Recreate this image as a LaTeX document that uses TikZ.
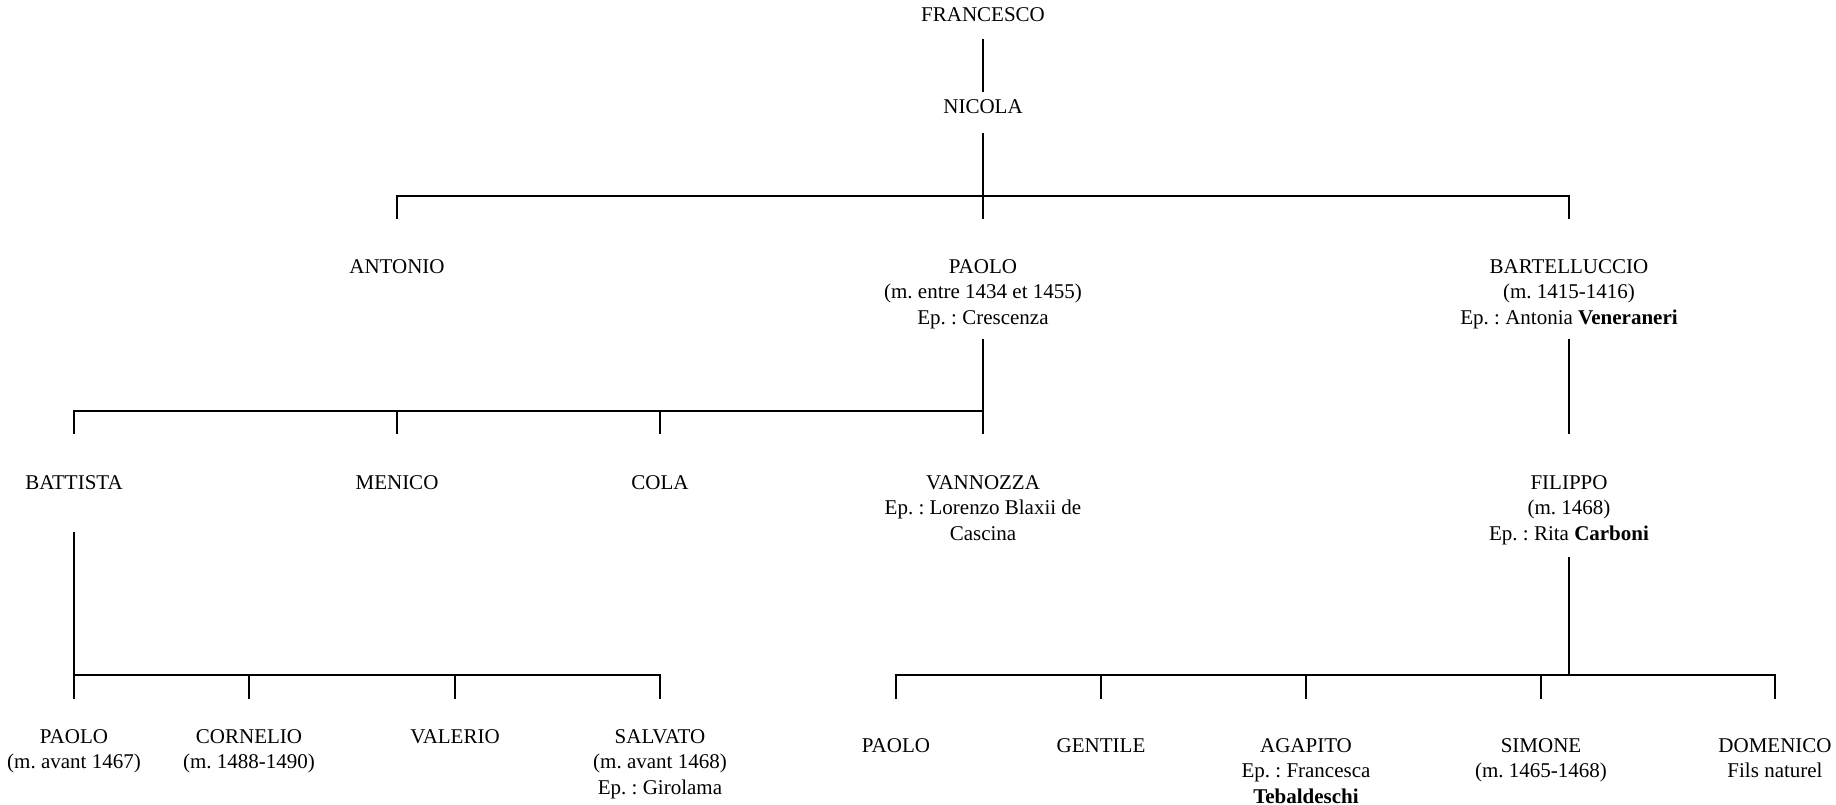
\documentclass[tikz,border=0pt]{standalone}
\usepackage{fontspec}
\setmainfont{Liberation Serif}
\frenchspacing
\begin{document}
\begin{tikzpicture}[x=1pt,y=-1pt,
  person/.style={anchor=base,inner sep=0pt,outer sep=0pt,font=\fontsize{21}{25.5}\selectfont},
  link/.style={line width=2pt,line cap=butt}]
\useasboundingbox (0,0) rectangle (1836,804);
\newcommand{\pers}[1]{\setlength{\tabcolsep}{0pt}\begin{tabular}[t]{c}#1\end{tabular}}
% row 0
\node[person] (francesco) at (983,21) {\pers{FRANCESCO}};
\node[person] (nicola) at (983,113) {\pers{NICOLA}};
% row 1
\node[person] (antonio) at (397,273) {\pers{ANTONIO}};
\node[person] (paolo) at (983,273) {\pers{PAOLO\\(m. entre 1434 et 1455)\\Ep. : Crescenza}};
\node[person] (bart) at (1569,273) {\pers{BARTELLUCCIO\\(m. 1415-1416)\\Ep. : Antonia \textbf{Veneraneri}}};
% row 2
\node[person] (battista) at (74,489) {\pers{BATTISTA}};
\node[person] (menico) at (397,489) {\pers{MENICO}};
\node[person] (cola) at (660,489) {\pers{COLA}};
\node[person] (vannozza) at (983,489) {\pers{VANNOZZA\\Ep. : Lorenzo Blaxii de\\Cascina}};
\node[person] (filippo) at (1569,489) {\pers{FILIPPO\\(m. 1468)\\Ep. : Rita \textbf{Carboni}}};
% row 3 left
\node[person] (paolob) at (74,743) {\pers{PAOLO\\(m. avant 1467)}};
\node[person] (cornelio) at (249,743) {\pers{CORNELIO\\(m. 1488-1490)}};
\node[person] (valerio) at (455,743) {\pers{VALERIO}};
\node[person] (salvato) at (660,743) {\pers{SALVATO\\(m. avant 1468)\\Ep. : Girolama}};
% row 3 right
\node[person] (paolof) at (896,752) {\pers{PAOLO}};
\node[person] (gentile) at (1101,752) {\pers{GENTILE}};
\node[person] (agapito) at (1306,752) {\pers{AGAPITO\\Ep. : Francesca\\\textbf{Tebaldeschi}}};
\node[person] (simone) at (1541,752) {\pers{SIMONE\\(m. 1465-1468)}};
\node[person] (domenico) at (1775,752) {\pers{DOMENICO\\Fils naturel}};
% connectors
\draw[link] (francesco.base |- 0,39) -- (nicola.base |- 0,92);
% Nicola's children
\coordinate (nb) at (983,195.5);
\draw[link] (nicola.base |- 0,133) -- (nb) -- (paolo.base |- 0,219);
\draw[link] (antonio.base |- 0,219) -- (antonio.base |- nb) -- (bart.base |- nb) -- (bart.base |- 0,219);
% Paolo's children
\coordinate (pb) at (983,411);
\draw[link] (paolo.base |- 0,339) -- (pb) -- (vannozza.base |- 0,434);
\draw[link] (battista.base |- 0,434) -- (battista.base |- pb) -- (pb);
\draw[link] (menico.base |- pb) -- (menico.base |- 0,434);
\draw[link] (cola.base |- pb) -- (cola.base |- 0,434);
% Bartelluccio -> Filippo
\draw[link] (bart.base |- 0,339) -- (filippo.base |- 0,434);
% Battista's children
\coordinate (bb) at (74,675);
\draw[link] (battista.base |- 0,532) -- (bb) -- (paolob.base |- 0,699);
\draw[link] (bb) -- (salvato.base |- bb) -- (salvato.base |- 0,699);
\draw[link] (cornelio.base |- bb) -- (cornelio.base |- 0,699);
\draw[link] (valerio.base |- bb) -- (valerio.base |- 0,699);
% Filippo's children
\coordinate (fb) at (1569,675);
\draw[link] (filippo.base |- 0,557) -- (fb);
\draw[link] (paolof.base |- 0,699) -- (paolof.base |- fb) -- (domenico.base |- fb) -- (domenico.base |- 0,699);
\draw[link] (gentile.base |- fb) -- (gentile.base |- 0,699);
\draw[link] (agapito.base |- fb) -- (agapito.base |- 0,699);
\draw[link] (simone.base |- fb) -- (simone.base |- 0,699);
\end{tikzpicture}
\end{document}
